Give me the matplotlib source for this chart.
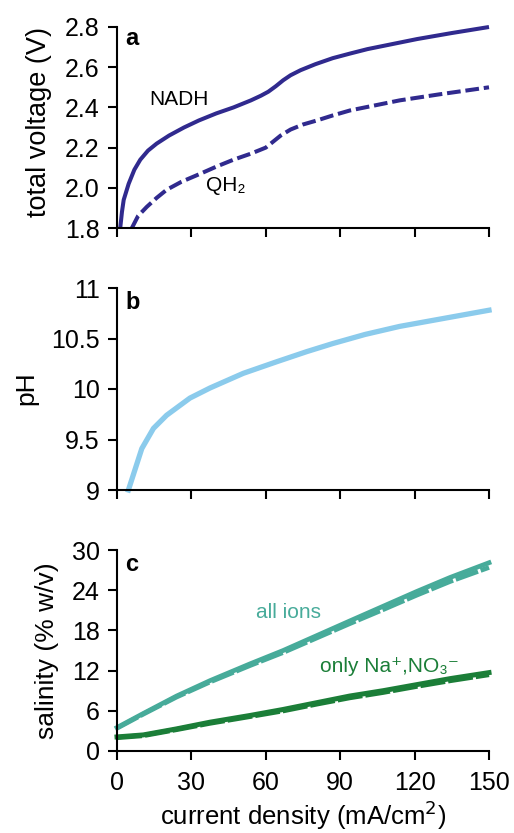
import matplotlib
matplotlib.use("Agg")
import matplotlib.pyplot as plt

plt.rcParams['font.family'] = ['Liberation Sans', 'DejaVu Sans']

# Panel a: total voltage
nadh_x = [1.3, 2.0, 2.7, 4.7, 7, 9.4, 12.5, 16, 21, 27, 33, 40, 47, 54, 58, 61, 64, 67, 70, 74, 80, 87, 94, 101, 111, 121, 135, 150]
nadh_v = [1.80, 1.88, 1.94, 2.02, 2.09, 2.14, 2.185, 2.22, 2.26, 2.30, 2.335, 2.37, 2.40, 2.435, 2.458, 2.478, 2.505, 2.535, 2.56, 2.585, 2.615, 2.645, 2.668, 2.69, 2.715, 2.74, 2.77, 2.80]
qh2_x = [6, 8.5, 12, 16, 20, 26, 33.6, 40, 47, 54, 60, 63, 66, 70, 75, 80.6, 87, 94, 104, 114, 130, 150]
qh2_v = [1.80, 1.86, 1.905, 1.95, 1.99, 2.03, 2.07, 2.105, 2.14, 2.17, 2.20, 2.23, 2.26, 2.29, 2.315, 2.335, 2.36, 2.385, 2.41, 2.435, 2.465, 2.50]

# Panel b: pH
ph_x = [4.6, 10.0, 14.7, 20.0, 29.4, 37.5, 50.9, 64.4, 76.5, 87, 100, 114, 132, 150]
ph_nadh = [9.0, 9.41, 9.61, 9.74, 9.91, 10.01, 10.155, 10.27, 10.37, 10.45, 10.54, 10.62, 10.70, 10.78]
ph_qh2 = [9.0, 9.40, 9.60, 9.73, 9.90, 10.0, 10.145, 10.26, 10.36, 10.44, 10.53, 10.61, 10.69, 10.765]

# Panel c: salinity
sal_x = [0, 10.6, 24, 37.5, 53.6, 67, 80.4, 93.8, 107.3, 120.8, 134.3, 150]
all_nadh = [3.5, 5.6, 8.2, 10.5, 13.0, 15.0, 17.2, 19.4, 21.6, 23.8, 25.9, 28.1]
all_qh2 = [3.4, 5.5, 8.05, 10.3, 12.75, 14.7, 16.85, 19.0, 21.1, 23.25, 25.3, 27.4]
na_x = [0, 10.6, 24, 37.5, 53.6, 67, 80.4, 93.8, 107.3, 120.8, 134.3, 150]
na_nadh = [2.1, 2.4, 3.3, 4.3, 5.3, 6.2, 7.2, 8.2, 9.0, 9.9, 10.8, 11.7]
na_qh2 = [2.0, 2.3, 3.2, 4.15, 5.15, 6.0, 7.0, 7.95, 8.75, 9.65, 10.5, 11.4]

x_ticks = [0, 30, 60, 90, 120, 150]

purple = '#302a8e'
lblue = '#8bcbec'
teal = '#47ab9a'
green = '#1b7e38'

fig = plt.figure(figsize=(5.14, 8.33), dpi=100)
W, H = 514, 833
L, R = 117, 489
def ax_at(top, bot):
    return fig.add_axes([L / W, 1 - bot / H, (R - L) / W, (bot - top) / H])

axa = ax_at(27, 228)
axb = ax_at(288, 490)
axc = ax_at(550, 751)

TICK_FS = 18
LAB_FS = 19
ANN_FS = 15
LET_FS = 17

for ax in (axa, axb, axc):
    ax.spines['top'].set_visible(False)
    ax.spines['right'].set_visible(False)
    ax.spines['left'].set_linewidth(1.5)
    ax.spines['bottom'].set_linewidth(1.5)
    ax.set_xlim(0, 150)
    ax.set_xticks(x_ticks)
    ax.tick_params(direction='out', length=6.5, width=1.5, labelsize=TICK_FS)
    ax.tick_params(axis='y', pad=6)
    ax.tick_params(axis='x', pad=8)

def ylab(text, ycen, xcen, fs=LAB_FS):
    fig.text(xcen / W, 1 - ycen / H, text, rotation=90, ha='center', va='center', fontsize=fs)

# a
axa.plot(nadh_x, nadh_v, color=purple, lw=2.9, solid_capstyle='butt', clip_on=False)
axa.plot(qh2_x, qh2_v, color=purple, lw=2.9, ls=(0, (3.4, 1.2)), dash_capstyle='butt', clip_on=False)
axa.set_ylim(1.8, 2.8)
axa.set_yticks([1.8, 2.0, 2.2, 2.4, 2.6, 2.8])
axa.set_yticklabels(['1.8', '2.0', '2.2', '2.4', '2.6', '2.8'])
axa.set_xticklabels([])
ylab('total voltage (V)', 122, 39, 19.5)
axa.text(0.022, 1.0, 'a', transform=axa.transAxes, fontsize=LET_FS, fontweight='bold', va='top')
axa.text(25, 2.437, 'NADH', fontsize=ANN_FS, ha='center', va='center')
axa.text(44, 2.01, 'QH₂', fontsize=ANN_FS, ha='center', va='center')

# b
axb.plot(ph_x, ph_qh2, color='white', lw=2.8, ls=(0, (4, 2)), clip_on=False)
axb.plot(ph_x, ph_nadh, color=lblue, lw=3.8, clip_on=False)
axb.set_ylim(9, 11)
axb.set_yticks([9, 9.5, 10, 10.5, 11])
axb.set_yticklabels(['9', '9.5', '10', '10.5', '11'])
axb.set_xticklabels([])
ylab('pH', 388, 26)
axb.text(0.022, 0.985, 'b', transform=axb.transAxes, fontsize=LET_FS, fontweight='bold', va='top')

# c
axc.plot(sal_x, all_qh2, color=teal, lw=3.4, ls=(0, (5, 0.6)), clip_on=False)
axc.plot(sal_x, all_nadh, color=teal, lw=3.4, clip_on=False)
axc.plot(na_x, na_qh2, color=green, lw=3.6, ls=(0, (5, 0.6)), clip_on=False)
axc.plot(na_x, na_nadh, color=green, lw=3.6, clip_on=False)
axc.set_ylim(0, 30)
axc.set_yticks([0, 6, 12, 18, 24, 30])
ylab('salinity (% w/v)', 651, 47)
fig.text(303 / W, 1 - 832 / H, 'current density (mA/cm$^2$)', ha='center', va='bottom', fontsize=18.5)
axc.text(0.022, 0.985, 'c', transform=axc.transAxes, fontsize=LET_FS, fontweight='bold', va='top')
axc.text(69, 20.6, 'all ions', color=teal, fontsize=ANN_FS, ha='center', va='center')
axc.text(110, 12.6, 'only Na⁺,NO₃⁻', color=green, fontsize=ANN_FS, ha='center', va='center')

fig.savefig('out.png', dpi=100)
